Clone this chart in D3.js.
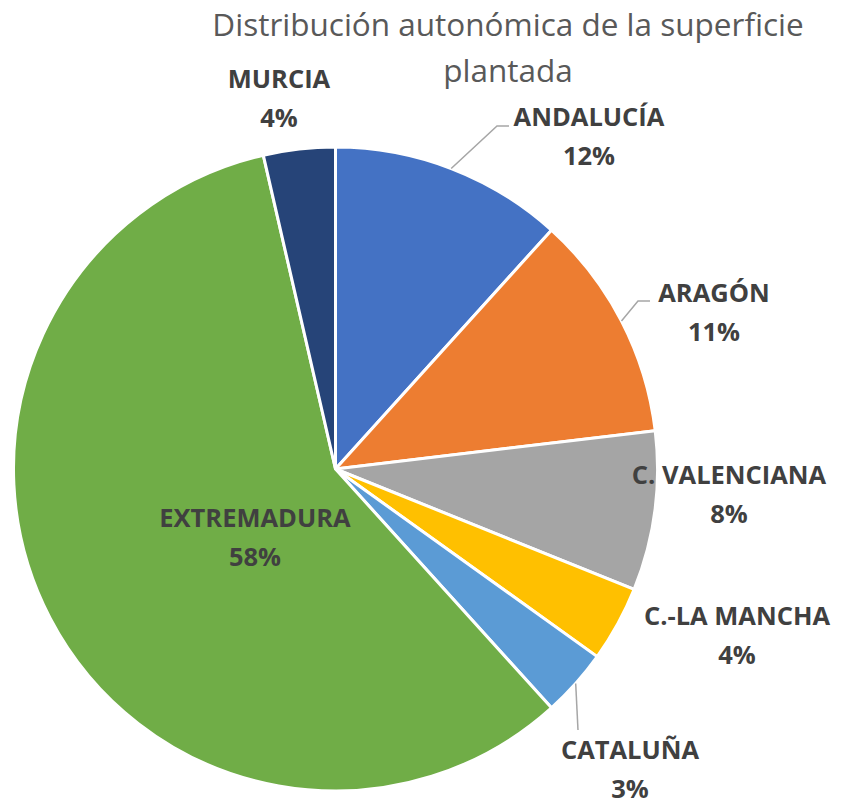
<!DOCTYPE html>
<html>
<head>
<meta charset="utf-8">
<script src="https://cdn.jsdelivr.net/npm/d3@7/dist/d3.min.js"></script>
<style>
  html, body { margin: 0; padding: 0; background: #ffffff; }
  svg { display: block; }
</style>
</head>
<body>
<script>
// Superficie plantada por comunidad autónoma (% del total)
const regions = ["ANDALUCÍA", "ARAGÓN", "C. VALENCIANA", "C.-LA MANCHA", "CATALUÑA", "EXTREMADURA", "MURCIA"];
const shares  = [11.7, 11.4, 8.0, 3.8, 3.4, 58.1, 3.6];
const colors  = ["#4472C4", "#ED7D31", "#A5A5A5", "#FFC000", "#5B9BD5", "#70AD47", "#264478"];
const titleLines = ["Distribución autonómica de la superficie", "plantada"];

const width = 845, height = 803;
const cx = 335.5, cy = 469, radius = 322;

// Label anchor (centre x, baseline of first line) and optional leader elbow
const labelLayout = [
  { x: 589, y: 126, leader: [[497, 126], [509, 126]] },
  { x: 714, y: 302, leader: [[638, 301], [650, 301]] },
  { x: 729, y: 484 },
  { x: 737, y: 625 },
  { x: 630, y: 759, leader: [[578, 730]] },
  { x: 255, y: 527 },
  { x: 279, y: 88 }
];

const svg = d3.select("body").append("svg")
  .attr("width", width)
  .attr("height", height);

svg.selectAll("text.title")
  .data(titleLines)
  .join("text")
  .attr("class", "title")
  .attr("x", 508)
  .attr("y", (d, i) => 36 + i * 46)
  .attr("text-anchor", "middle")
  .attr("font-family", "'Open Sans', sans-serif")
  .attr("font-size", 31.5)
  .attr("fill", "#595959")
  .text(d => d);

const data = regions.map((r, i) => ({ region: r, value: shares[i], color: colors[i], layout: labelLayout[i] }));

const pie = d3.pie().value(d => d.value).sort(null);
const arcs = pie(data);
const arc = d3.arc().innerRadius(0).outerRadius(radius);

const g = svg.append("g").attr("transform", `translate(${cx},${cy})`);

g.selectAll("path.slice")
  .data(arcs)
  .join("path")
  .attr("class", "slice")
  .attr("d", arc)
  .attr("fill", d => d.data.color)
  .attr("stroke", "#ffffff")
  .attr("stroke-width", 3)
  .attr("stroke-linejoin", "round");

// Leader lines from the outer edge of the slice to the label
const edgePoint = d => {
  const a = (d.startAngle + d.endAngle) / 2;
  return [cx + radius * Math.sin(a), cy - radius * Math.cos(a)];
};

svg.selectAll("polyline.leader")
  .data(arcs.filter(d => d.data.layout.leader))
  .join("polyline")
  .attr("class", "leader")
  .attr("points", d => [edgePoint(d), ...d.data.layout.leader].map(p => p.join(",")).join(" "))
  .attr("fill", "none")
  .attr("stroke", "#A6A6A6")
  .attr("stroke-width", 1.5);

const labels = svg.selectAll("text.label")
  .data(arcs)
  .join("text")
  .attr("class", "label")
  .attr("text-anchor", "middle")
  .attr("font-family", "'Open Sans', sans-serif")
  .attr("font-weight", "bold")
  .attr("font-size", 25.5)
  .attr("fill", "#404040");

labels.append("tspan")
  .attr("x", d => d.data.layout.x)
  .attr("y", d => d.data.layout.y)
  .text(d => d.data.region);

labels.append("tspan")
  .attr("x", d => d.data.layout.x)
  .attr("y", d => d.data.layout.y + 38.5)
  .text(d => Math.round(d.data.value) + "%");
</script>
</body>
</html>
